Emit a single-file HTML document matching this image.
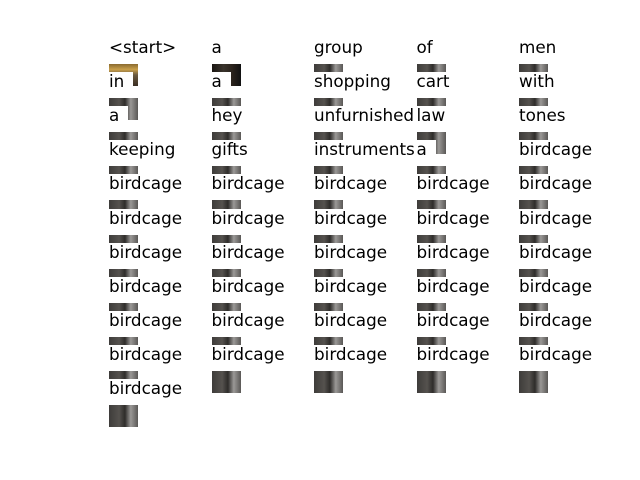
<!DOCTYPE html>
<html><head><meta charset="utf-8"><style>
body{margin:0;background:#fff;}
#fig{position:relative;width:640px;height:480px;overflow:hidden;background:#fff;font-family:"DejaVu Sans","Liberation Sans",sans-serif;}
.img{position:absolute;width:29px;height:22px;}
.ttl{position:absolute;font-size:16.8px;line-height:13.6px;background:#fff;color:#000;white-space:nowrap;padding:3px 9px 3px 3px;}
</style></head><body>
<div id="fig"></div>
<script>
const words = ["<start>","a","group","of","men","in","a","shopping","cart","with","a","hey","unfurnished","law","tones","keeping","gifts","instruments","a","birdcage",
"birdcage","birdcage","birdcage","birdcage","birdcage","birdcage","birdcage","birdcage","birdcage","birdcage",
"birdcage","birdcage","birdcage","birdcage","birdcage","birdcage","birdcage","birdcage","birdcage","birdcage",
"birdcage","birdcage","birdcage","birdcage","birdcage","birdcage","birdcage","birdcage","birdcage","birdcage","birdcage"];
const colX = [109,211.5,314,416.5,519];
const fig = document.getElementById('fig');
const styles = [
 "linear-gradient(180deg,#8a6a30 0%,#c9a04a 25%,#6b5a40 50%,#3a2e22 100%)",
 "linear-gradient(90deg,#1a1612 0%,#3a342c 40%,#2a231c 70%,#111 100%)",
 "linear-gradient(90deg,#3e3c3a 0%,#55524e 35%,#2e2c2a 55%,#9a9896 75%,#5a5856 100%)"
];
for (let i = 0; i < words.length; i++) {
  const r = Math.floor(i / 5), c = i % 5;
  const x = colX[c], base = 52 + r * 34.1;
  const im = document.createElement('div');
  im.className = 'img';
  
  
  im.style.left = x + 'px';
  im.style.top = (base + 12) + 'px';
  im.style.background = i === 0 ? styles[0] : (i === 1 ? styles[1] : styles[2]);
  fig.appendChild(im);
}
for (let i = 0; i < words.length; i++) {
  const r = Math.floor(i / 5), c = i % 5;
  const x = colX[c], base = 52 + r * 34.1;
  const t = document.createElement('div');
  t.className = 'ttl';
  
  
  t.textContent = words[i];
  t.style.left = (x - 3) + 'px';
  t.style.top = (base - 14) + 'px';
  fig.appendChild(t);
}
</script>
</body></html>
